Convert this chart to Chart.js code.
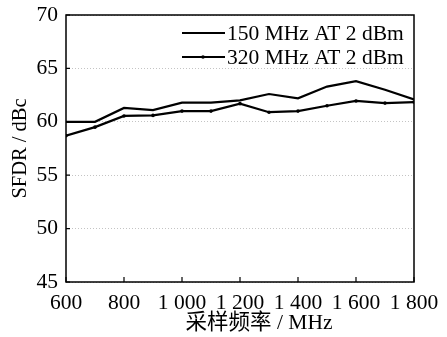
<!DOCTYPE html>
<html>
<head>
<meta charset="utf-8">
<script src="https://cdn.jsdelivr.net/npm/chart.js@4.4.1/dist/chart.umd.min.js"></script>
<style>
  html, body { margin: 0; padding: 0; background: #fff; }
  #wrap { width: 447px; height: 337px; }
</style>
</head>
<body>
<div id="wrap"><canvas id="c" width="447" height="337"></canvas></div>
<script>
// sampling frequency, MHz
var freqs = [600, 700, 800, 900, 1000, 1100, 1200, 1300, 1400, 1500, 1600, 1700, 1800];
// SFDR, dBc
var sfdr150 = [60.0, 60.0, 61.3, 61.1, 61.8, 61.8, 62.0, 62.6, 62.2, 63.3, 63.8, 63.0, 62.1];
var sfdr320 = [58.7, 59.5, 60.55, 60.6, 61.0, 61.0, 61.7, 60.9, 61.0, 61.5, 61.95, 61.75, 61.85];
var seriesNames = ['150 MHz AT 2 dBm', '320 MHz AT 2 dBm'];
var yTicks = [45, 50, 55, 60, 65, 70];
var xTicks = [600, 800, 1000, 1200, 1400, 1600, 1800];

var serif = '"Liberation Serif", "Times New Roman", serif';
var cjk = '"Liberation Serif", "Noto Sans CJK SC", serif';

function fmtFreq(v) {
    var s = String(v);
    if (s.length > 3) s = s.slice(0, s.length - 3) + ' ' + s.slice(s.length - 3);
    return s;
}

function toXY(ys) {
    return freqs.map(function (f, i) { return { x: f, y: ys[i] }; });
}

// frame, inward ticks, legend and x title
var decor = {
    id: 'decor',
    afterDraw: function (chart) {
        var ctx = chart.ctx;
        var a = chart.chartArea;
        var xs = chart.scales.x, ys = chart.scales.y;
        ctx.save();
        ctx.strokeStyle = '#000';
        ctx.lineWidth = 1.5;
        ctx.strokeRect(a.left, a.top, a.right - a.left, a.bottom - a.top);

        ctx.lineWidth = 1.2;
        ctx.beginPath();
        xTicks.forEach(function (t) {
            var px = xs.getPixelForValue(t);
            ctx.moveTo(px, a.bottom);
            ctx.lineTo(px, a.bottom - 5);
        });
        yTicks.forEach(function (t) {
            var py = ys.getPixelForValue(t);
            ctx.moveTo(a.left, py);
            ctx.lineTo(a.left + 4, py);
        });
        ctx.stroke();

        // legend
        ctx.font = '21.5px ' + serif;
        ctx.fillStyle = '#000';
        ctx.textBaseline = 'middle';
        ctx.textAlign = 'left';
        var rows = [33, 57];
        chart.data.datasets.forEach(function (ds, i) {
            var y = rows[i];
            ctx.lineWidth = 2;
            ctx.beginPath();
            ctx.moveTo(182, y);
            ctx.lineTo(225, y);
            ctx.stroke();
            if (ds.pointRadius > 0) {
                ctx.beginPath();
                ctx.arc(203, y, 1.8, 0, Math.PI * 2);
                ctx.fill();
            }
            ctx.fillText(ds.label, 227, y + 1);
        });

        // x title
        ctx.font = '21.5px ' + cjk;
        ctx.textAlign = 'center';
        ctx.fillText('采样频率 / MHz', 259, 323);
        ctx.restore();
    }
};

var chart = new Chart(document.getElementById('c').getContext('2d'), {
    type: 'line',
    data: {
        datasets: [
            { label: seriesNames[0], data: toXY(sfdr150), borderColor: '#000', borderWidth: 2.2, pointRadius: 0, tension: 0, fill: false },
            { label: seriesNames[1], data: toXY(sfdr320), borderColor: '#000', backgroundColor: '#000', borderWidth: 2.2, pointRadius: 1.8, pointBorderWidth: 0, tension: 0, fill: false }
        ]
    },
    options: {
        responsive: false,
        animation: false,
        layout: { padding: { top: 15, right: 33, left: 0, bottom: 0 } },
        plugins: { legend: { display: false }, tooltip: { enabled: false } },
        scales: {
            x: {
                type: 'linear',
                min: 600,
                max: 1800,
                afterBuildTicks: function (s) { s.ticks = xTicks.map(function (v) { return { value: v }; }); },
                afterFit: function (s) { s.height = 55; s.paddingLeft = 0; s.paddingRight = 0; },
                grid: { display: false },
                border: { display: false },
                ticks: {
                    color: '#000',
                    font: { family: serif, size: 21.5 },
                    padding: 0,
                    maxRotation: 0,
                    autoSkip: false,
                    callback: function (v) { return fmtFreq(v); }
                }
            },
            y: {
                min: 45,
                max: 70,
                afterBuildTicks: function (s) { s.ticks = yTicks.map(function (v) { return { value: v }; }); },
                afterFit: function (s) { s.width = 66; s.paddingTop = 0; s.paddingBottom = 0; },
                grid: {
                    color: '#c4c4c4',
                    lineWidth: 1,
                    drawTicks: false
                },
                border: { display: false, dash: [1, 2] },
                ticks: {
                    color: '#000',
                    font: { family: serif, size: 21.5 },
                    padding: 8
                },
                title: {
                    display: true,
                    text: 'SFDR / dBc',
                    color: '#000',
                    font: { family: serif, size: 20.5 },
                    padding: { top: 8, bottom: 0 }
                }
            }
        }
    },
    plugins: [decor]
});
</script>
</body>
</html>
